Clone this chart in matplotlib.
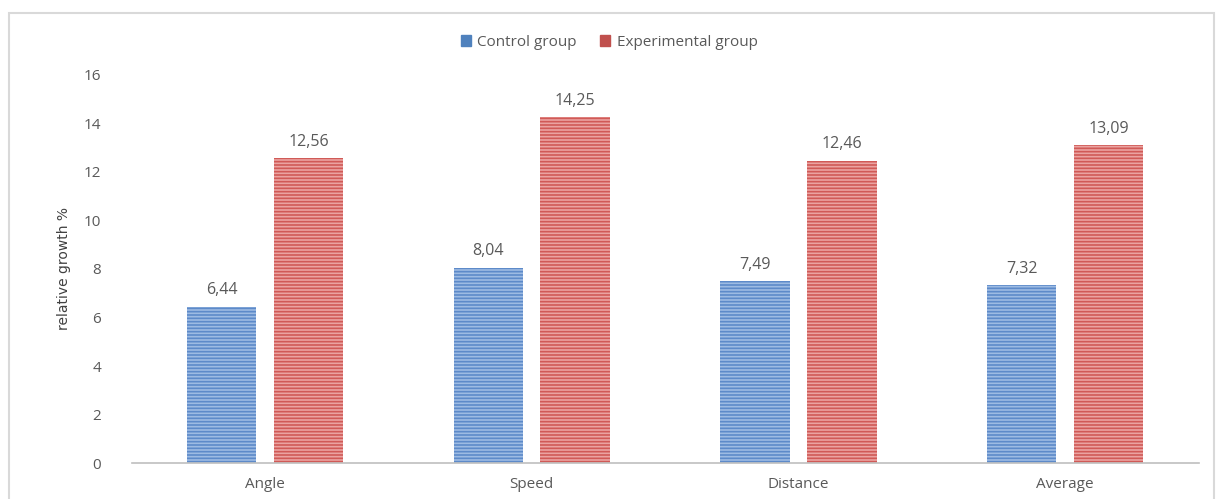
import numpy as np
import matplotlib.pyplot as plt
from matplotlib.patches import Rectangle

# ====================== 数据 ======================
categories = ["Angle", "Speed", "Distance", "Average"]
control = [6.44, 8.04, 7.49, 7.32]
experimental = [12.56, 14.25, 12.46, 13.09]
series_names = ["Control group", "Experimental group"]

plt.rcParams['font.family'] = ['Open Sans', 'DejaVu Sans']
plt.rcParams['hatch.linewidth'] = 1.2

TEXT = '#595959'
BLUE_FACE, BLUE_HATCH = '#9dbbe3', '#5d8ac9'
RED_FACE, RED_HATCH = '#eba3a1', '#d05a57'

fig = plt.figure(figsize=(12.18, 4.99), dpi=100)
ax = fig.add_axes([0.108, 0.072, 0.876, 0.778])

x = np.arange(len(categories))
w = 0.26
off = 0.163

b1 = ax.bar(x - off, control, w, color=BLUE_FACE, edgecolor=BLUE_HATCH,
            linewidth=0, hatch='-----', label=series_names[0])
b2 = ax.bar(x + off, experimental, w, color=RED_FACE, edgecolor=RED_HATCH,
            linewidth=0, hatch='-----', label=series_names[1])

for bars, vals in ((b1, control), (b2, experimental)):
    for rect, v in zip(bars, vals):
        ax.text(rect.get_x() + rect.get_width() / 2, v + 0.35,
                f"{v:.2f}".replace('.', ','), ha='center', va='bottom',
                fontsize=11.5, color=TEXT)

ax.set_xlim(-0.5, len(categories) - 0.5)
ax.set_ylim(0, 16)
ax.set_yticks(range(0, 17, 2))
ax.set_xticks(x)
ax.set_xticklabels(categories)
ax.tick_params(axis='both', length=0, labelsize=11, colors=TEXT, pad=10)
ax.tick_params(axis='y', pad=22)

for s in ('top', 'right', 'left'):
    ax.spines[s].set_visible(False)
ax.spines['bottom'].set_color('#bfbfbf')
ax.spines['bottom'].set_linewidth(1.2)

ax.set_ylabel('relative growth %', fontsize=10, color='#404040',
              family=['Liberation Sans Narrow', 'DejaVu Sans'], labelpad=9)

# 图例
handles = [Rectangle((0, 0), 1, 1, color='#4f81bd'), Rectangle((0, 0), 1, 1, color='#c0504d')]
fig.legend(handles, series_names, loc='center', bbox_to_anchor=(0.5, 0.915),
           ncol=2, frameon=False, fontsize=11, handlelength=0.7, handleheight=0.7,
           columnspacing=1.5, handletextpad=0.4, labelcolor=TEXT)

# 外框
fig.patches.append(Rectangle((0.007, -0.01), 0.99, 0.984, transform=fig.transFigure,
                             fill=False, edgecolor='#d9d9d9', linewidth=1.5))

fig.savefig('out.png', dpi=100)
